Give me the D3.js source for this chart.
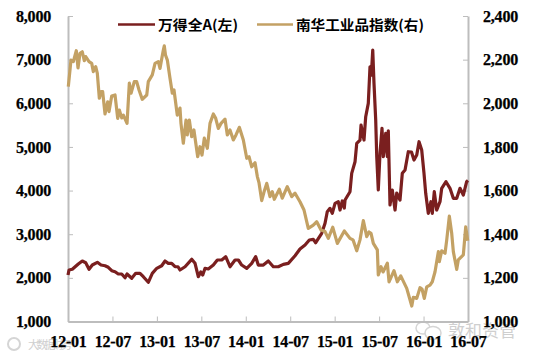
<!DOCTYPE html>
<html>
<head>
<meta charset="utf-8">
<script src="https://cdn.jsdelivr.net/npm/d3@7/dist/d3.min.js"></script>
<style>
html,body{margin:0;padding:0;background:#fff;overflow:hidden}
svg{display:block}
.tick text,.lab{font-family:"Liberation Serif",serif;font-weight:bold;font-size:16px;fill:#000;stroke:#000;stroke-width:.25px;letter-spacing:-0.2px}
.leg{font-family:"Noto Sans CJK SC",sans-serif;font-weight:bold;font-size:14px;fill:#000}
.wm{font-family:"Noto Sans CJK SC",sans-serif;fill:#cfcfcf}
</style>
</head>
<body>
<svg id="c" width="533" height="356"></svg>
<script>
const xLabels = ["12-01","12-07","13-01","13-07","14-01","14-07","15-01","15-07","16-01","16-07"];
const xTickMonths = [0,6,12,18,24,30,36,42,48,54];
const leftTicks = [1000,2000,3000,4000,5000,6000,7000,8000];
const rightTicks = [1000,1200,1400,1600,1800,2000,2200,2400];
const seriesNames = ["万得全A(左)","南华工业品指数(右)"];

const monthsA = [0,.14,.58,1.39,1.93,2.39,2.84,3.28,3.96,4.46,5,5.44,5.9,6.35,6.79,7.25,7.7,7.97,8.6,9.14,9.72,10.17,10.84,11.38,11.98,12.65,13.1,13.54,14,14.45,14.85,15.12,15.8,16.7,17.15,17.59,17.92,18.19,18.5,18.94,19.62,20.16,20.75,21.29,21.87,22.55,23,23.45,24.13,24.8,25.34,25.69,26.37,27.04,27.72,28.39,29.07,29.74,30.65,31.32,32,32.58,33.12,33.44,34.25,34.7,35,35.37,35.68,36.05,36.49,36.72,37.03,37.3,37.4,38.07,38.3,38.75,38.98,39.42,39.56,39.96,40.19,40.54,40.77,40.95,41.14,41.31,41.54,41.68,41.89,42.12,42.39,42.57,42.89,43.11,43.24,43.47,43.78,44.15,44.38,44.82,45.13,45.5,45.94,46.37,46.71,47.08,47.39,47.75,48.06,48.29,48.64,49,49.18,49.45,49.77,50.22,50.45,51.03,51.57,52.02,52.48,52.92,53.37,53.82,54];
const valuesA = [2065,2180,2196,2317,2386,2347,2196,2294,2356,2294,2278,2242,2164,2141,2088,2088,2003,2088,1990,2104,2104,2026,1898,2104,2219,2278,2386,2333,2333,2255,2255,2180,2255,2425,2333,2026,2134,2065,2219,2203,2294,2409,2409,2485,2255,2409,2409,2294,2219,2333,2485,2294,2294,2386,2255,2255,2310,2333,2507,2661,2753,2867,2883,2805,3021,3250,3515,3593,3479,3708,3745,3554,3761,3600,3784,3974,4395,4661,5083,5158,5502,5158,5692,5999,6837,6647,7220,6457,5616,4776,4013,4853,5426,4776,5312,4776,5371,3669,4013,3554,3944,3784,4395,4471,4890,4883,4700,4815,5119,4929,4395,3937,3479,3745,3479,3974,3554,3745,4052,4203,4052,3822,3822,4052,3898,4203,4230];

const monthsNH = [.04,.27,.4,.72,1.12,1.35,1.62,1.93,2.2,2.39,2.84,3.2,3.42,3.74,3.96,4.23,4.46,4.68,5,5.36,5.54,5.9,6.35,6.71,6.93,7.25,7.47,7.97,8.28,8.51,8.95,9.27,9.59,10.03,10.63,10.84,11.38,11.75,12.19,12.42,12.87,13,13.16,13.41,13.77,14.08,14.31,14.54,14.75,15.12,15.25,15.57,15.93,16.1,16.38,16.7,17,17.51,17.82,18.09,18.4,18.81,19.17,19.62,19.94,20.29,20.66,21.2,21.51,21.87,22.32,22.68,23.13,23.67,24.13,24.44,24.8,25.25,25.56,25.79,26.15,26.46,26.83,27.27,27.58,27.85,28.53,28.93,29.6,30.2,30.65,31.32,31.86,32.44,33.12,33.58,34.16,34.7,35.14,35.74,36.36,37.3,38.07,38.48,38.98,39.42,39.87,40.33,40.64,40.91,41.22,41.76,41.89,42.26,42.53,43.11,43.34,44.01,44.46,44.92,45.73,46.41,46.62,47.08,47.52,47.79,48.1,48.43,48.87,49.18,49.55,50,50.13,50.45,50.9,51.13,51.48,51.8,52.02,52.48,52.69,53.37,53.69,53.96];
const valuesNH = [2076,2153,2198,2191,2241,2162,2229,2236,2195,2214,2191,2183,2145,2168,2137,2023,2053,2053,1951,2007,1962,2033,2038,1931,1969,1933,1946,1908,2092,2046,2099,2099,2061,2018,2038,2099,2130,2183,2191,2160,2244,2263,2221,2198,2115,2046,2061,2001,1946,1978,1908,1817,1923,1855,1923,1847,1878,1755,1801,1763,1840,1794,1908,1951,1931,1885,1908,1927,1855,1878,1832,1855,1890,1832,1748,1755,1709,1728,1664,1635,1554,1593,1633,1572,1595,1560,1606,1565,1618,1572,1588,1549,1511,1427,1442,1457,1419,1412,1381,1432,1358,1415,1381,1374,1324,1374,1462,1389,1410,1404,1358,1328,1213,1251,1227,1267,1182,1233,1182,1209,1152,1071,1111,1106,1155,1149,1106,1159,1167,1182,1228,1320,1274,1324,1313,1374,1483,1404,1320,1239,1282,1305,1434,1370];

const m = {l:68, r:468, t:16, b:321.5};
const svg = d3.select("#c");

// watermarks sit beneath the chart text
const wm = svg.append("g");
wm.append("ellipse").attr("cx",423).attr("cy",328).attr("rx",7).attr("ry",6).attr("fill","#fff").attr("stroke","#d5d5d5").attr("stroke-width",1.5);
wm.append("ellipse").attr("cx",433).attr("cy",333).attr("rx",8).attr("ry",6.5).attr("fill","#fff").attr("stroke","#d5d5d5").attr("stroke-width",1.5);
wm.append("text").attr("class","wm").attr("x",448).attr("y",337).attr("font-size",17).text("敦和资管");
wm.append("circle").attr("cx",14).attr("cy",344).attr("r",6).attr("fill","none").attr("stroke","#d5d5d5").attr("stroke-width",2);
wm.append("text").attr("class","wm").attr("x",28).attr("y",349).attr("font-size",11).attr("textLength",44).text("大数据财务");

const x = d3.scaleLinear().domain([0,54]).range([m.l,m.r]);
const yL = d3.scaleLinear().domain([1000,8000]).range([m.b,m.t]);
const yR = d3.scaleLinear().domain([1000,2400]).range([m.b,m.t]);

const styleAxis = g => {
  g.attr("font-family",null).attr("font-size",null);
  g.select(".domain").attr("stroke","#bdbdbd").attr("stroke-width",2);
  g.selectAll(".tick line").attr("stroke","#bdbdbd").attr("stroke-width",1);
};

svg.append("g").attr("transform",`translate(${m.l},0)`)
  .call(d3.axisLeft(yL).tickValues(leftTicks).tickFormat(d3.format(",")).tickSizeInner(-5).tickSizeOuter(0).tickPadding(17))
  .call(styleAxis);
svg.append("g").attr("transform",`translate(${m.r},0)`)
  .call(d3.axisRight(yR).tickValues(rightTicks).tickFormat(d3.format(",")).tickSizeInner(-5).tickSizeOuter(0).tickPadding(15))
  .call(styleAxis);
svg.append("g").attr("transform",`translate(0,${m.b})`)
  .call(d3.axisBottom(x).tickValues(xTickMonths).tickFormat((d,i)=>xLabels[i]).tickSizeInner(-5).tickSizeOuter(0).tickPadding(14))
  .call(styleAxis);

const lineA = d3.line().x((d,i)=>x(monthsA[i])).y(d=>yL(d));
const lineNH = d3.line().x((d,i)=>x(monthsNH[i])).y(d=>yR(d));

svg.append("path").datum(valuesA).attr("d",lineA).attr("fill","none").attr("stroke","#7a1f1f").attr("stroke-width",3.2).attr("stroke-linejoin","round");
svg.append("path").datum(valuesNH).attr("d",lineNH).attr("fill","none").attr("stroke","#c3a164").attr("stroke-width",3.2).attr("stroke-linejoin","round");

// legend
svg.append("line").attr("x1",118).attr("x2",155).attr("y1",24.5).attr("y2",24.5).attr("stroke","#7a1f1f").attr("stroke-width",2.6);
svg.append("text").attr("class","leg").attr("x",158).attr("y",30).attr("textLength",80).attr("lengthAdjust","spacingAndGlyphs").text(seriesNames[0]);
svg.append("line").attr("x1",257).attr("x2",293).attr("y1",24.5).attr("y2",24.5).attr("stroke","#c3a164").attr("stroke-width",2.6);
svg.append("text").attr("class","leg").attr("x",296).attr("y",30).attr("textLength",128).attr("lengthAdjust","spacingAndGlyphs").text(seriesNames[1]);
</script>
</body>
</html>
